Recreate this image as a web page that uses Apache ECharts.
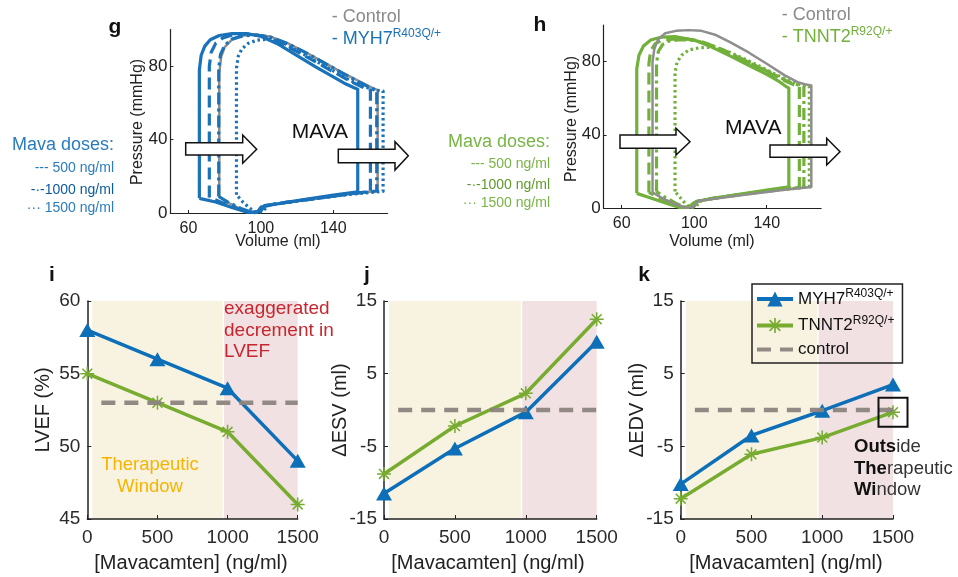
<!DOCTYPE html>
<html><head><meta charset="utf-8">
<script src="https://cdn.jsdelivr.net/npm/echarts@6/dist/echarts.min.js"></script>
<style>html,body{margin:0;padding:0;background:#fff}#c{width:958px;height:577px}</style>
</head><body><div id="c"></div>
<script>
// ---------- DATA ----------
const doses = [0, 500, 1000, 1500];
const lvefMyh7 = [58, 56, 54, 49];
const lvefTnnt2 = [55, 53, 51, 46];
const lvefControl = 53;
const desvMyh7 = [-11.5, -5.3, -0.3, 9.4];
const desvTnnt2 = [-8.8, -2.2, 2.3, 12.5];
const dedvMyh7 = [-10.2, -3.5, -0.1, 3.5];
const dedvTnnt2 = [-12.2, -6.1, -3.8, -0.3];
const deltaControl = 0;
const controlSpan = [100, 1500];
const therapeuticWindow = [35, 965];
const exaggeratedZone = [975, 1500];
const pvVolumeTicks = [60, 100, 140];
const pvPressureTicks = [0, 40, 80];

const gControl = [[77,9],[77,50],[77,76],[78,85],[80,90.5],[84,94.5],[90,96.8],[97,97.3],[105,96.3],[115,92.5],[125,87.5],[135,82],[145,76.5],[155,71.5],[161,68.5],[164.5,67],[164.5,12],[150,10.5],[130,7.8],[112,5.5],[102,4],[100,1],[96,0],[88,2.5],[82,5.5],[77,9]];
const gMyh7 = [[66,8],[66,50],[66,78],[67,86],[69,91],[72,94.5],[77,96.8],[84,97.8],[92,97.8],[100,96.4],[110,91.8],[120,85.8],[130,79.8],[140,74.2],[147,70.3],[151.5,68.3],[153.5,67.5],[153.5,11.5],[140,9.8],[122,7],[106,4.5],[100,3.2],[98,0.5],[92,0.5],[84,3],[75,6],[66,8]];
const gDose500 = [[71.5,8.5],[71.5,50],[71.5,80],[72.5,87.5],[75,92.5],[79,95.5],[85,97.3],[93,97.6],[101,96.5],[110,93],[120,88],[130,82.5],[140,77],[150,71.5],[157,68.3],[160.5,67],[160.5,11.8],[145,10],[125,7.3],[108,5],[101,3.6],[99,0.8],[94,0.2],[87,2.5],[79,5.5],[71.5,8.5]];
const gDose1000 = [[76.7,9],[76.7,50],[76.7,79],[77.7,86.5],[80,91.5],[84,94.8],[90,96.6],[97,97],[105,96],[115,92.3],[125,87.3],[135,81.8],[145,76.3],[155,71],[161,68],[164,67],[164,12],[150,10.5],[130,7.8],[112,5.5],[102,4],[100,1],[96,0],[89,2.5],[82,5.8],[76.7,9]];
const gDose1500 = [[86.5,10],[86.5,50],[86.5,79],[87.5,85.5],[89.5,89.5],[93,92.5],[98,94.3],[105,94.8],[112,93],[120,88.5],[130,83],[140,77.5],[150,72],[158,68.5],[163,67],[167.5,66.5],[167.5,11.8],[150,10.3],[130,7.8],[112,5.5],[104,4],[101,1],[98,0],[94,2.5],[90,6],[86.5,10]];

const hControl = [[77,8.5],[77,50],[77,80],[78,87],[80,92],[84,95.5],[90,96.8],[97,97.2],[104,96.8],[112,94.5],[120,90.5],[130,85],[140,78.8],[150,72.5],[157,68.8],[161,67.6],[164.6,67],[164.6,11.5],[150,10],[130,7.5],[112,5.2],[102,3.8],[100,1],[96,0],[89,2.3],[83,5],[77,8.5]];
const hTnnt2 = [[68.3,8],[68.3,50],[68.3,76],[69.5,83.5],[72,88.5],[76,91.8],[82,93.4],[90,93.6],[100,91.8],[110,87.8],[120,83],[130,78],[140,73],[147,69],[150.5,66.5],[152.2,65.5],[152.2,11.5],[140,9.8],[122,7],[106,4.5],[100,3],[97,0.5],[92,0.3],[85,2.5],[76,5.5],[68.3,8]];
const hDose500 = [[75,8.5],[75,50],[75,79],[76,86],[78.5,89.8],[82,91.5],[88,92.3],[96,92.3],[104,91],[112,88],[120,84.5],[130,79.5],[140,74.5],[150,69.5],[155,67.3],[158,66.5],[158,11.5],[145,10],[125,7.3],[108,5],[101,3.5],[99,0.8],[94,0.2],[88,2.5],[81,5.5],[75,8.5]];
const hDose1000 = [[79.2,9],[79.2,50],[79.2,79],[80.2,85.5],[82.5,89.3],[86,91.2],[92,92],[100,91.6],[108,89.5],[116,86.3],[125,82],[135,77.3],[145,72.5],[153,68.5],[158,67],[160.5,66.5],[160.5,11.5],[145,10],[125,7.3],[108,5],[102,3.8],[100,1],[96,0],[90,2.5],[84,5.8],[79.2,9]];
const hDose1500 = [[89.4,9],[89.4,50],[89.4,74],[90.5,79.5],[93,83.5],[97,86.3],[103,87.6],[110,87.8],[118,85.8],[126,82.2],[135,78],[145,73],[153,69.3],[159,67.3],[163.5,66.5],[163.5,11.5],[150,10.2],[130,7.8],[112,5.5],[104,4],[101,1],[98,0],[95,2.5],[92,6],[89.4,9]];

// ---------- STYLE ----------
const FONT = "'Liberation Sans', Arial, Helvetica, sans-serif";
const BLUE = '#0d6fb8', GREEN = '#77ac30', GRAY = '#8e8e8e', CTRL = '#8c837e';
const PV_BLUE = '#1a72b9', PV_GREEN = '#72b03c';
const YELLOW_BG = '#f8f3e1', PINK_BG = '#f2e1e2';
const AXIS_C = '#222';
const ASTERISK = 'path://M-1.1,-10 L1.1,-10 L1.1,10 L-1.1,10 Z M-10,-1.1 L10,-1.1 L10,1.1 L-10,1.1 Z M-6.29,-7.85 L7.85,6.29 L6.29,7.85 L-7.85,-6.29 Z M6.29,-7.85 L7.85,-6.29 L-6.29,7.85 L-7.85,6.29 Z';

const chart = echarts.init(document.getElementById('c'), null, {renderer: 'canvas'});

const grids = [
  {left: 170.4, top: 29.6, width: 217.2, height: 183.4},
  {left: 603.6, top: 25, width: 217.5, height: 183},
  {left: 87.3, top: 301, width: 210.4, height: 218},
  {left: 384, top: 301, width: 212.7, height: 218},
  {left: 680.7, top: 301, width: 212.3, height: 218}
];
const plain = v => String(v);

function pvX(gi) {
  return {type: 'value', gridIndex: gi, min: 50, max: 170,
    axisLine: {show: true, onZero: false, lineStyle: {color: AXIS_C, width: 1.2}},
    axisTick: {show: true, inside: true, length: 3, customValues: pvVolumeTicks, lineStyle: {color: AXIS_C}},
    axisLabel: {customValues: pvVolumeTicks, fontSize: 16, color: AXIS_C, margin: 8, fontFamily: FONT, formatter: plain},
    splitLine: {show: false}};
}
function pvY(gi) {
  return {type: 'value', gridIndex: gi, min: 0, max: 100,
    axisLine: {show: true, onZero: false, lineStyle: {color: AXIS_C, width: 1.2}},
    axisTick: {show: true, inside: true, length: 3, customValues: pvPressureTicks, lineStyle: {color: AXIS_C}},
    axisLabel: {customValues: pvPressureTicks, fontSize: 17, color: AXIS_C, margin: 3, fontFamily: FONT, formatter: plain},
    splitLine: {show: false}};
}
function doseX(gi) {
  return {type: 'value', gridIndex: gi, min: 0, max: 1500, interval: 500,
    axisLine: {show: true, onZero: false, lineStyle: {color: AXIS_C, width: 1.5}},
    axisTick: {show: true, inside: true, length: 4, lineStyle: {color: AXIS_C}},
    axisLabel: {fontSize: 19, color: '#2a2a2a', margin: 9, fontFamily: FONT, formatter: plain},
    splitLine: {show: false}};
}
function effY(gi, min, max, interval) {
  return {type: 'value', gridIndex: gi, min: min, max: max, interval: interval,
    axisLine: {show: true, onZero: false, lineStyle: {color: AXIS_C, width: 1.5}},
    axisTick: {show: true, inside: true, length: 4, lineStyle: {color: AXIS_C}},
    axisLabel: {fontSize: 19, color: '#2a2a2a', margin: 7, fontFamily: FONT, formatter: plain},
    splitLine: {show: false}};
}

function loop(gi, data, color, type, width, z) {
  return {type: 'line', xAxisIndex: gi, yAxisIndex: gi, data: data, symbol: 'none', silent: true,
    lineStyle: {color: color, width: width, type: type, cap: 'butt', join: 'round'}, z: z, animation: false};
}
const pair = v => doses.map((d, i) => [d, v[i]]);

function effectSeries(gi, myh7, tnnt2, ctrl) {
  return [
    {type: 'line', xAxisIndex: gi, yAxisIndex: gi, data: [], symbol: 'none', silent: true, z: 0,
      markArea: {silent: true, z: 0, data: [
        [{xAxis: therapeuticWindow[0], itemStyle: {color: YELLOW_BG}}, {xAxis: therapeuticWindow[1]}],
        [{xAxis: exaggeratedZone[0], itemStyle: {color: PINK_BG}}, {xAxis: exaggeratedZone[1]}]
      ]}},
    {name: 'TNNT2', type: 'line', xAxisIndex: gi, yAxisIndex: gi, data: pair(tnnt2), z: 3,
      symbol: ASTERISK, symbolSize: 14, showAllSymbol: true,
      itemStyle: {color: GREEN}, lineStyle: {color: GREEN, width: 3.5}},
    {name: 'MYH7', type: 'line', xAxisIndex: gi, yAxisIndex: gi, data: pair(myh7), z: 4,
      symbol: 'triangle', symbolSize: [16, 14], showAllSymbol: true,
      itemStyle: {color: BLUE}, lineStyle: {color: BLUE, width: 3.5}},
    {name: 'control', type: 'line', xAxisIndex: gi, yAxisIndex: gi, z: 5,
      data: [[controlSpan[0], ctrl], [controlSpan[1], ctrl]], symbol: 'circle', showSymbol: false,
      itemStyle: {color: 'rgba(0,0,0,0)'}, lineStyle: {color: CTRL, width: 4.5, type: [14, 9], opacity: 0.95}}
  ];
}

const DASH = [12, 6], DASHDOT = [12, 4, 3, 4], DOT = [2.5, 3];

const series = [
  loop(0, gControl, GRAY, 'solid', 2.5, 2),
  loop(0, gMyh7, PV_BLUE, 'solid', 3.2, 3),
  loop(0, gDose500, PV_BLUE, DASH, 3.2, 3),
  loop(0, gDose1000, PV_BLUE, DASHDOT, 3.2, 3),
  loop(0, gDose1500, PV_BLUE, DOT, 3.2, 3),
  loop(1, hTnnt2, PV_GREEN, 'solid', 3.2, 3),
  loop(1, hDose500, PV_GREEN, DASH, 3.2, 3),
  loop(1, hDose1000, PV_GREEN, DASHDOT, 3.2, 3),
  loop(1, hDose1500, PV_GREEN, DOT, 3.2, 3),
  loop(1, hControl, GRAY, 'solid', 2.5, 4)
].concat(
  effectSeries(2, lvefMyh7, lvefTnnt2, lvefControl),
  effectSeries(3, desvMyh7, desvTnnt2, deltaControl),
  effectSeries(4, dedvMyh7, dedvTnnt2, deltaControl)
);

function T(x, y, text, size, color, o) {
  o = o || {};
  return {type: 'text', x: x, y: y, rotation: o.rot || 0, z: 100, silent: true,
    style: {text: text, fontSize: size, fontFamily: FONT, fontWeight: o.bold ? 'bold' : 'normal',
      fill: color, align: o.align || 'center', verticalAlign: o.va || 'middle',
      lineHeight: o.lh, rich: o.rich}};
}
function supRich(color, n, s) {
  return {n: {fontSize: n, fill: color, fontFamily: FONT, lineHeight: 22},
          s: {fontSize: s, fill: color, fontFamily: FONT, verticalAlign: 'top', lineHeight: 8}};
}
function arrow(pts) {
  return {type: 'polygon', z: 90, silent: true, shape: {points: pts},
    style: {fill: '#fff', stroke: '#111', lineWidth: 1.5}};
}

const graphic = [
  T(115, 27, 'g', 21, '#111', {bold: true}),
  T(540, 25, 'h', 21, '#111', {bold: true}),
  T(52, 275, 'i', 21, '#111', {bold: true}),
  T(367, 275, 'j', 21, '#111', {bold: true}),
  T(644, 275, 'k', 21, '#111', {bold: true}),

  T(331.7, 17, '- Control', 18, '#8a8a8a', {align: 'left'}),
  T(331.7, 39, '{n|- MYH7}{s|R403Q/+}', 18, PV_BLUE, {align: 'left', rich: supRich(PV_BLUE, 18, 12)}),
  T(781.7, 15, '- Control', 18, '#8a8a8a', {align: 'left'}),
  T(781.7, 37, '{n|- TNNT2}{s|R92Q/+}', 18, PV_GREEN, {align: 'left', rich: supRich(PV_GREEN, 18, 12)}),

  T(114, 145, 'Mava doses:', 18, '#2a7cc0', {align: 'right'}),
  T(114, 168, '--- 500 ng/ml', 14, '#2a7cc0', {align: 'right'}),
  T(114, 190, '-·-1000 ng/ml', 14, '#0b5a9e', {align: 'right'}),
  T(114, 208, '··· 1500 ng/ml', 14, '#2a7cc0', {align: 'right'}),
  T(550, 142, 'Mava doses:', 18, '#79b446', {align: 'right'}),
  T(550, 164, '--- 500 ng/ml', 14, '#79b446', {align: 'right'}),
  T(550, 185, '-·-1000 ng/ml', 14, '#5e9a2c', {align: 'right'}),
  T(550, 203, '··· 1500 ng/ml', 14, '#79b446', {align: 'right'}),

  T(291.7, 132, 'MAVA', 21, '#111', {align: 'left'}),
  T(725, 128, 'MAVA', 21, '#111', {align: 'left'}),
  arrow([[185.7,142.7],[242.7,142.7],[242.7,135],[256.7,149.2],[242.7,163.3],[242.7,155],[185.7,155]]),
  arrow([[338.3,149.3],[395,149.3],[395,141.7],[408.3,155.8],[395,170],[395,162.7],[338.3,162.7]]),
  arrow([[620,135],[676,135],[676,128.3],[690,141.7],[676,155],[676,148.3],[620,148.3]]),
  arrow([[770,145],[826.7,145],[826.7,138.3],[840,151.7],[826.7,165],[826.7,157.3],[770,157.3]]),

  T(138, 122, 'Pressure (mmHg)', 16, '#222', {rot: Math.PI / 2}),
  T(571.7, 119, 'Pressure (mmHg)', 16, '#222', {rot: Math.PI / 2}),
  T(278, 242, 'Volume (ml)', 16, '#222'),
  T(712, 242, 'Volume (ml)', 16, '#222'),

  T(43, 410, 'LVEF (%)', 20, '#222', {rot: Math.PI / 2}),
  T(340, 410, '\u0394ESV (ml)', 20, '#222', {rot: Math.PI / 2}),
  T(637, 410, '\u0394EDV (ml)', 20, '#222', {rot: Math.PI / 2}),
  T(191, 563, '[Mavacamten] (ng/ml)', 20, '#222'),
  T(488, 563, '[Mavacamten] (ng/ml)', 20, '#222'),
  T(786, 563, '[Mavacamten] (ng/ml)', 20, '#222'),

  T(224, 330.5, 'exaggerated\ndecrement in\nLVEF', 19, '#c8262e', {align: 'left', lh: 21.5}),
  T(150, 476, 'Therapeutic\nWindow', 18.5, '#f5b400', {lh: 22}),
  T(854, 468.5, '{b|Outs}{r|ide}\n{b|The}{r|rapeutic}\n{b|Wi}{r|ndow}', 18.5, '#222', {align: 'left', lh: 21.5,
    rich: {b: {fontSize: 18.5, fontWeight: 'bold', fill: '#111', fontFamily: FONT, lineHeight: 21.5},
           r: {fontSize: 18.5, fill: '#333', fontFamily: FONT, lineHeight: 21.5}}})
];

const option = {
  animation: false,
  backgroundColor: '#fff',
  grid: grids,
  xAxis: [pvX(0), pvX(1), doseX(2), doseX(3), doseX(4)],
  yAxis: [pvY(0), pvY(1), effY(2, 45, 60, 5), effY(3, -15, 15, 10), effY(4, -15, 15, 10)],
  legend: {
    show: true, left: 752, top: 284, orient: 'vertical', padding: [4, 8, 5, 3], itemGap: 7,
    itemWidth: 36, itemHeight: 19, borderColor: '#222', borderWidth: 1.5, backgroundColor: 'transparent',
    lineStyle: {width: 4},
    data: ['MYH7', 'TNNT2', {name: 'control', itemStyle: {opacity: 0}}], selectedMode: false,
    formatter: n => n === 'MYH7' ? '{n|MYH7}{s|R403Q/+}' : n === 'TNNT2' ? '{n|TNNT2}{s|R92Q/+}' : '{n|control}',
    textStyle: {color: '#111', fontFamily: FONT, fontSize: 17,
      rich: {n: {fontSize: 17, lineHeight: 22, color: '#111', fontFamily: FONT},
             s: {fontSize: 12, verticalAlign: 'top', lineHeight: 8, color: '#111', fontFamily: FONT}}}
  },
  series: series,
  graphic: graphic
};
chart.setOption(option);

// black square marking the 1500 ng/ml TNNT2 point in panel k
const p = chart.convertToPixel({gridIndex: 4}, [doses[3], dedvTnnt2[3]]);
chart.setOption({graphic: graphic.concat([{type: 'rect', z: 95, silent: true,
  shape: {x: p[0] - 14.5, y: p[1] - 14.5, width: 29, height: 29},
  style: {fill: 'none', stroke: '#111', lineWidth: 2}}])});
</script></body></html>
